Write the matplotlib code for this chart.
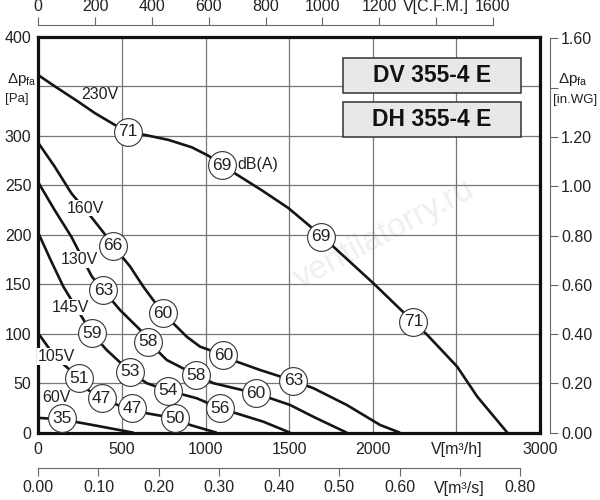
import numpy as np
import matplotlib.pyplot as plt
from matplotlib.patches import Rectangle

plt.rcParams['font.family'] = ['Liberation Sans', 'DejaVu Sans']
plt.rcParams['mathtext.fontset'] = 'custom'
plt.rcParams['mathtext.rm'] = 'Liberation Sans'

# fan curves, V [m3/h] vs dp [Pa]
v230_x = [0, 100, 239, 339, 459, 538, 638, 778, 918, 1017, 1097, 1177, 1337, 1496,
          1616, 1695, 1765, 2004, 2243, 2325, 2505, 2625, 2805]
v230_y = [361.5, 350, 334.6, 323, 311, 304, 301, 296, 288.5, 280, 270.6, 262, 245, 227,
          210, 198, 188, 151, 112, 99, 66.7, 36.4, 0]
v160_x = [0, 98, 198, 317, 387, 447, 549, 628, 745, 888, 967, 1107, 1187, 1326, 1525,
          1646, 1845, 2044, 2163]
v160_y = [293, 269, 242, 218, 203, 189, 168, 147.6, 121, 97, 87, 78.5, 71.8, 63.4, 52.6,
          44.9, 28, 7.8, 0]
v130_x = [0, 98, 198, 320, 389, 489, 609, 658, 768, 944, 1048, 1302, 1506, 1646, 1845]
v130_y = [253, 225, 198, 158, 144, 124, 104, 92, 73.5, 58.3, 50, 39.8, 28, 16, 0]
v145_x = [0, 70, 150, 320, 409, 549, 649, 778, 948, 1087, 1346, 1506]
v145_y = [202, 176, 147.6, 100.5, 83.6, 61.7, 50, 42.5, 34.8, 24.7, 11.1, 0]
v105_x = [0, 100, 245, 299, 379, 489, 559, 649, 818, 908, 1067]
v105_y = [100.5, 76.8, 55, 43, 34.8, 27, 24.7, 19.6, 14.6, 7.8, 0]
v60_x = [0, 140, 350, 570]
v60_y = [15, 13.5, 7, 0]

curves = [(v230_x, v230_y), (v160_x, v160_y), (v130_x, v130_y),
          (v145_x, v145_y), (v105_x, v105_y), (v60_x, v60_y)]

# sound levels dB(A) along the curves
db_x = [538, 1097, 1690, 2243,
        447, 745, 1107, 1525,
        389, 658, 944, 1302,
        320, 549, 778, 1087,
        245, 379, 559, 818,
        140]
db_y = [304, 270.6, 198, 112,
        189, 121, 78.5, 52.6,
        144, 92, 58.3, 39.8,
        100.5, 61.7, 42.5, 24.7,
        55, 34.8, 24.7, 14.6,
        14.6]
db_val = ['71', '69', '69', '71',
          '66', '60', '60', '63',
          '63', '58', '58', '60',
          '59', '53', '54', '56',
          '51', '47', '47', '50',
          '35']

volt_labels = ['230V', '160V', '130V', '145V', '105V', '60V']
volt_x = [369, 280, 245, 194, 110, 110]
volt_y = [341.5, 227, 175, 127, 77, 36]
volt_box = [False, True, True, True, True, False]

x_ticks = [0, 500, 1000, 1500, 2000, 2500, 3000]
x_labels = ['0', '500', '1000', '1500', '2000', 'V[m³/h]', '3000']
y_ticks = [0, 50, 100, 150, 200, 250, 300, 350, 400]
y_labels = ['0', '50', '100', '150', '200', '250', '300', '', '400']
cfm_ticks = [0, 200, 400, 600, 800, 1000, 1200, 1400, 1600]
cfm_labels = ['0', '200', '400', '600', '800', '1000', '1200', 'V[C.F.M.]', '1600']
ms_ticks = [0, 0.1, 0.2, 0.3, 0.4, 0.5, 0.6, 0.7, 0.8]
ms_labels = ['0.00', '0.10', '0.20', '0.30', '0.40', '0.50', '0.60', 'V[m³/s]', '0.80']
wg_ticks = [0, 0.2, 0.4, 0.6, 0.8, 1.0, 1.2, 1.4, 1.6]
wg_labels = ['0.00', '0.20', '0.40', '0.60', '0.80', '1.00', '1.20', '', '1.60']

tc = '#222222'
fs = 11.5

fig = plt.figure(figsize=(6, 5), dpi=100)
L, B, W, H = 0.0638, 0.1346, 0.8362, 0.7914
ax = fig.add_axes([L, B, W, H])
ax.set_xlim(0, 3000)
ax.set_ylim(0, 400)
ax.set_xticks(x_ticks)
ax.set_xticklabels(x_labels)
ax.set_yticks(y_ticks)
ax.set_yticklabels(y_labels)
ax.tick_params(length=0, labelsize=fs, colors=tc)
ax.tick_params(axis='x', pad=7)
ax.tick_params(axis='y', pad=5)
ax.grid(True, color='#777777', lw=0.9)
ax.set_axisbelow(True)
for s in ax.spines.values():
    s.set_linewidth(2.3)
    s.set_color('#111111')

ax.text(0.5, 0.5, 'ventilatorry.ru', transform=ax.transAxes, fontsize=24,
        color='#efefef', rotation=28, ha='left', va='center', zorder=0.5)

for cx, cy in curves:
    ax.plot(cx, cy, color='#151515', lw=1.9, zorder=2, solid_capstyle='butt',
            solid_joinstyle='round')

for lab, lx, ly, bx in zip(volt_labels, volt_x, volt_y, volt_box):
    bb = dict(boxstyle='square,pad=0.05', fc='white', ec='none') if bx else None
    ax.text(lx, ly, lab, fontsize=11.5, color=tc, ha='center', va='center', zorder=3, bbox=bb)

ax.plot(db_x, db_y, 'o', ms=20, mfc='white', mec='#333333', mew=0.8, zorder=4)
for v, dx, dy in zip(db_val, db_x, db_y):
    ax.text(dx, dy, v, fontsize=12.5, color=tc, ha='center', va='center', zorder=5)
ax.text(1190, 271, 'dB(A)', fontsize=11.5, color=tc, ha='left', va='center', zorder=5)

for yb, name in [(0.859, 'DV 355-4 E'), (0.748, 'DH 355-4 E')]:
    ax.add_patch(Rectangle((0.608, yb), 0.3535, 0.087, transform=ax.transAxes,
                           fc='#e8e8e8', ec='#333333', lw=1.1, zorder=6))
    ax.text(0.608 + 0.3535 / 2, yb + 0.0435, name, transform=ax.transAxes,
            fontsize=16.5, fontweight='bold', color='#111111', ha='center', va='center', zorder=7)

# left axis name
fig.text(0.011, 1 - 80 / 500, r'$\Delta$p$_{\mathregular{fa}}$', fontsize=11, color=tc, va='center')
fig.text(0.009, 1 - 99 / 500, '[Pa]', fontsize=9.5, color=tc, va='center')


def strip(a, keep):
    for k, s in a.spines.items():
        s.set_visible(k == keep)
    a.patch.set_visible(False)


# top axis C.F.M.
ax_t = fig.add_axes([L, 0.95, W, 0.0001])
strip(ax_t, 'top')
ax_t.spines['top'].set_color('#666666')
ax_t.spines['top'].set_bounds(0, 1600)
ax_t.set_xlim(0, 3000 / 1.69901)
ax_t.xaxis.tick_top()
ax_t.set_xticks(cfm_ticks)
ax_t.set_xticklabels(cfm_labels)
ax_t.set_yticks([])
ax_t.tick_params(axis='x', direction='out', length=6, color='#666666', labelsize=fs,
                 labelcolor=tc, pad=2)

# bottom axis m3/s
ax_b = fig.add_axes([L, 0.064, W, 0.0001])
strip(ax_b, 'bottom')
ax_b.spines['bottom'].set_color('#666666')
ax_b.spines['bottom'].set_bounds(0, 0.8)
ax_b.set_xlim(0, 3000 / 3600)
ax_b.set_xticks(ms_ticks)
ax_b.set_xticklabels(ms_labels)
ax_b.set_yticks([])
ax_b.tick_params(axis='x', direction='out', length=6, color='#666666', labelsize=fs,
                 labelcolor=tc, pad=3)

# right axis in.WG
ax_r = fig.add_axes([0.9167, B, 0.0001, H])
strip(ax_r, 'right')
ax_r.spines['right'].set_color('#666666')
ax_r.spines['right'].set_bounds(0, 1.6)
ax_r.set_ylim(0, 400 / 249.089)
ax_r.yaxis.tick_right()
ax_r.set_yticks(wg_ticks)
ax_r.set_yticklabels(wg_labels)
ax_r.set_xticks([])
ax_r.tick_params(axis='y', direction='out', length=6, color='#666666', labelsize=fs,
                 labelcolor=tc, pad=2)

fig.text(0.955, 1 - 80 / 500, r'$\Delta$p$_{\mathregular{fa}}$', fontsize=11, color=tc,
         va='center', ha='center')
fig.text(0.9585, 1 - 100 / 500, '[in.WG]', fontsize=9.5, color=tc, va='center', ha='center')

fig.savefig('out.png', dpi=100)
